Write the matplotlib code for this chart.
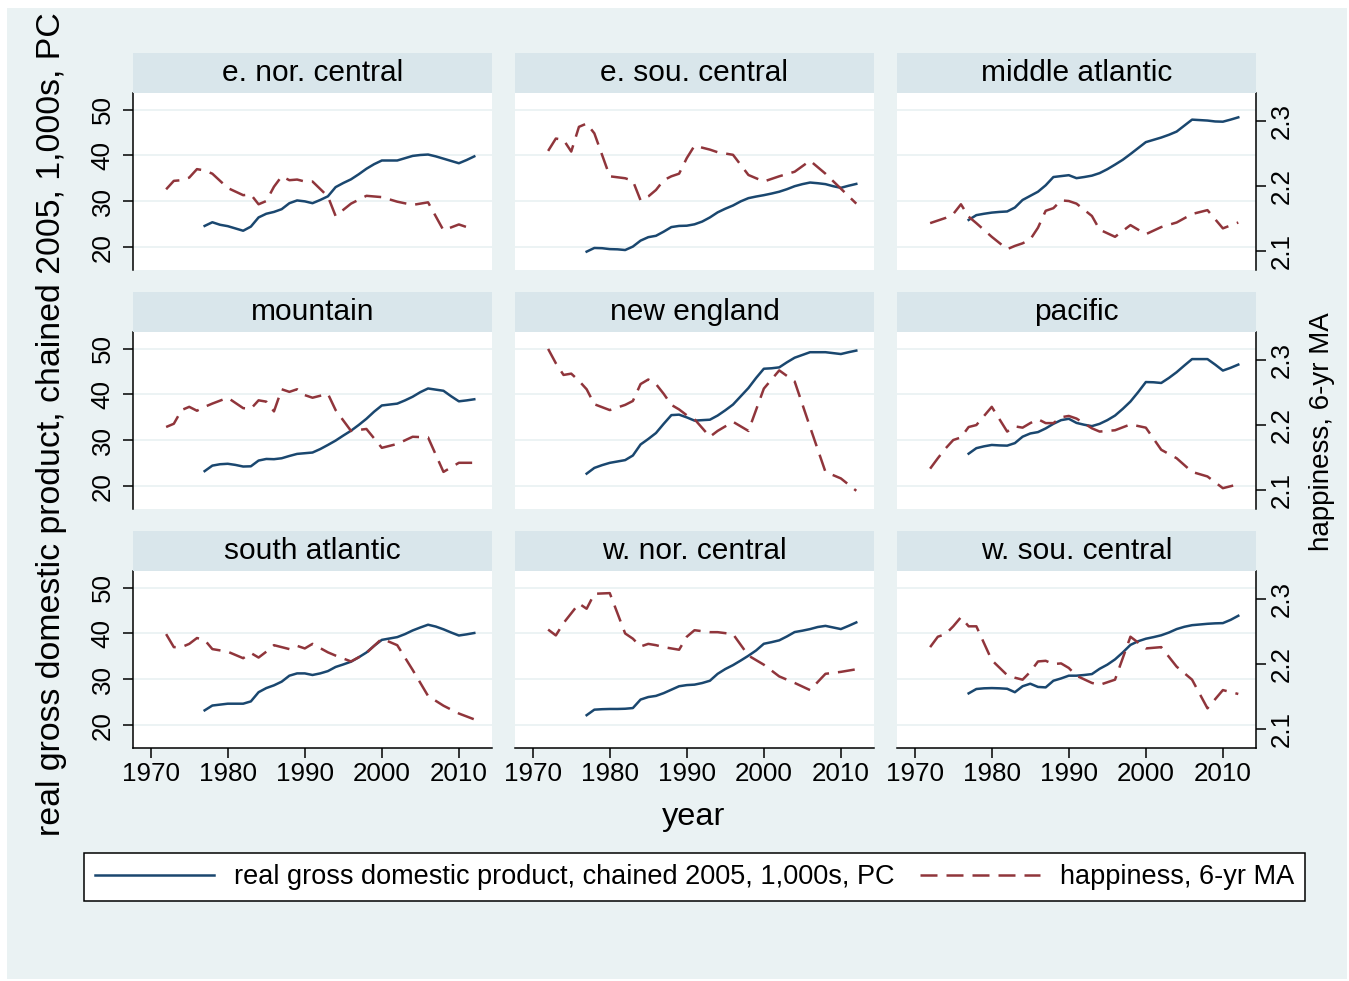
import matplotlib
matplotlib.use("Agg")
import matplotlib.pyplot as plt
from matplotlib.patches import Rectangle

plt.rcParams['font.family'] = ['Liberation Sans', 'DejaVu Sans']

W, H = 1349, 981

regions = ['e. nor. central', 'e. sou. central', 'middle atlantic',
           'mountain', 'new england', 'pacific',
           'south atlantic', 'w. nor. central', 'w. sou. central']

# GSS survey years (happiness, 6-yr moving average)
hap_years = [1972, 1973, 1974, 1975, 1976, 1977, 1978, 1980, 1982, 1983,
             1984, 1985, 1986, 1987, 1988, 1989, 1990, 1991, 1993, 1994,
             1996, 1998, 2000, 2002, 2004, 2006, 2008, 2010, 2012]
gdp_years = list(range(1977, 2013))

gdp_enc = [24.65, 25.45, 24.9, 24.6, 24.1, 23.6, 24.5, 26.5, 27.3, 27.7, 28.3, 29.6,
           30.2, 30.0, 29.6, 30.3, 31.1, 33.1, 34.0, 34.8, 35.9, 37.1, 38.1, 38.9,
           38.9, 38.9, 39.4, 39.9, 40.1, 40.2, 39.8, 39.3, 38.8, 38.3, 39.0, 39.8]
hap_enc = [2.195, 2.208, 2.209, 2.213, 2.226, 2.224, 2.219, 2.197, 2.186, 2.187,
           2.172, 2.177, 2.199, 2.215, 2.209, 2.210, 2.207, 2.207, 2.184, 2.154,
           2.173, 2.185, 2.183, 2.176, 2.171, 2.175, 2.132, 2.141, 2.133]

gdp_esc = [19.05, 19.85, 19.8, 19.6, 19.55, 19.4, 20.15, 21.45, 22.2, 22.5, 23.4, 24.4,
           24.65, 24.7, 25.0, 25.6, 26.5, 27.6, 28.4, 29.1, 30.0, 30.7, 31.05, 31.35,
           31.7, 32.1, 32.65, 33.3, 33.75, 34.1, 33.95, 33.75, 33.3, 32.95, 33.4, 33.8]
hap_esc = [2.254, 2.273, 2.271, 2.253, 2.291, 2.296, 2.281, 2.215, 2.212, 2.208,
           2.178, 2.184, 2.194, 2.209, 2.215, 2.219, 2.243, 2.262, 2.256, 2.252,
           2.248, 2.217, 2.207, 2.215, 2.222, 2.239, 2.219, 2.196, 2.173]

gdp_mat = [25.96, 27.0, 27.3, 27.55, 27.7, 27.8, 28.65, 30.3, 31.2, 32.1, 33.5, 35.3,
           35.5, 35.7, 35.05, 35.3, 35.6, 36.15, 37.0, 38.0, 39.05, 40.3, 41.6, 42.9,
           43.4, 43.9, 44.5, 45.2, 46.5, 47.8, 47.7, 47.6, 47.4, 47.35, 47.8, 48.3]
hap_mat = [2.143, 2.147, 2.151, 2.157, 2.172, 2.153, 2.143, 2.122, 2.103, 2.108,
           2.112, 2.118, 2.136, 2.162, 2.166, 2.178, 2.177, 2.173, 2.154, 2.133,
           2.122, 2.140, 2.126, 2.137, 2.144, 2.157, 2.163, 2.135, 2.144]

gdp_mtn = [23.3, 24.5, 24.8, 24.9, 24.65, 24.3, 24.35, 25.6, 25.95, 25.9, 26.1, 26.6,
           27.05, 27.2, 27.35, 28.1, 29.0, 29.95, 31.05, 32.1, 33.35, 34.7, 36.25, 37.6,
           37.8, 38.0, 38.7, 39.5, 40.5, 41.3, 41.05, 40.8, 39.6, 38.5, 38.7, 38.95]
hap_mtn = [2.197, 2.202, 2.223, 2.228, 2.222, 2.228, 2.233, 2.242, 2.226, 2.225,
           2.238, 2.236, 2.221, 2.255, 2.251, 2.255, 2.246, 2.242, 2.248, 2.223,
           2.191, 2.194, 2.165, 2.171, 2.182, 2.181, 2.128, 2.142, 2.142]

gdp_ne = [22.75, 24.0, 24.6, 25.1, 25.4, 25.7, 26.7, 29.1, 30.3, 31.6, 33.6, 35.5,
          35.6, 35.0, 34.3, 34.4, 34.5, 35.4, 36.55, 37.8, 39.6, 41.4, 43.6, 45.6,
          45.7, 45.9, 47.0, 48.0, 48.6, 49.2, 49.2, 49.2, 49.0, 48.8, 49.2, 49.55]
hap_ne = [2.317, 2.295, 2.277, 2.279, 2.268, 2.255, 2.232, 2.223, 2.231, 2.237,
          2.263, 2.270, 2.263, 2.248, 2.231, 2.224, 2.215, 2.209, 2.182, 2.191,
          2.205, 2.191, 2.256, 2.284, 2.267, 2.197, 2.128, 2.118, 2.099]

gdp_pac = [27.1, 28.3, 28.7, 29.0, 28.9, 28.85, 29.4, 30.8, 31.5, 31.8, 32.6, 33.6,
           34.4, 34.7, 33.8, 33.4, 33.1, 33.6, 34.4, 35.4, 36.85, 38.45, 40.5, 42.7,
           42.65, 42.5, 43.6, 44.85, 46.3, 47.7, 47.7, 47.7, 46.5, 45.2, 45.8, 46.5]
hap_pac = [2.133, 2.149, 2.164, 2.177, 2.181, 2.197, 2.200, 2.228, 2.190, 2.198,
           2.196, 2.203, 2.209, 2.203, 2.203, 2.212, 2.214, 2.210, 2.195, 2.190,
           2.192, 2.201, 2.196, 2.162, 2.149, 2.128, 2.121, 2.103, 2.109]

gdp_sat = [23.25, 24.3, 24.5, 24.7, 24.7, 24.7, 25.2, 27.2, 28.1, 28.7, 29.5, 30.8,
           31.3, 31.3, 30.95, 31.3, 31.8, 32.7, 33.25, 33.85, 34.8, 35.85, 37.3, 38.6,
           38.9, 39.2, 39.85, 40.65, 41.3, 41.9, 41.5, 40.9, 40.2, 39.55, 39.8, 40.1]
hap_sat = [2.246, 2.226, 2.226, 2.231, 2.240, 2.237, 2.223, 2.219, 2.209, 2.217,
           2.210, 2.219, 2.229, 2.226, 2.223, 2.228, 2.224, 2.231, 2.218, 2.213,
           2.204, 2.217, 2.239, 2.229, 2.191, 2.151, 2.136, 2.124, 2.115]

gdp_wnc = [22.2, 23.4, 23.5, 23.55, 23.55, 23.6, 23.75, 25.6, 26.15, 26.4, 27.0, 27.75,
           28.5, 28.75, 28.85, 29.2, 29.7, 31.2, 32.25, 33.1, 34.1, 35.15, 36.3, 37.75,
           38.1, 38.5, 39.35, 40.3, 40.6, 40.95, 41.4, 41.65, 41.3, 40.95, 41.65, 42.4]
hap_wnc = [2.253, 2.244, 2.263, 2.278, 2.293, 2.285, 2.308, 2.309, 2.247, 2.239,
           2.227, 2.231, 2.229, 2.226, 2.224, 2.222, 2.242, 2.252, 2.249, 2.249,
           2.246, 2.213, 2.199, 2.181, 2.171, 2.160, 2.185, 2.188, 2.192]

gdp_wsc = [26.95, 27.9, 28.05, 28.1, 28.05, 27.95, 27.2, 28.5, 29.05, 28.35, 28.25, 29.7,
           30.2, 30.8, 30.8, 30.95, 31.15, 32.3, 33.2, 34.35, 35.85, 37.5, 38.3, 38.85,
           39.2, 39.6, 40.2, 40.95, 41.45, 41.8, 41.95, 42.1, 42.2, 42.25, 42.95, 43.85]
hap_wsc = [2.226, 2.242, 2.246, 2.258, 2.272, 2.258, 2.258, 2.206, 2.183, 2.179,
           2.176, 2.188, 2.204, 2.205, 2.200, 2.201, 2.194, 2.182, 2.171, 2.168,
           2.176, 2.242, 2.224, 2.226, 2.196, 2.176, 2.132, 2.160, 2.154]

gdp_all = [gdp_enc, gdp_esc, gdp_mat, gdp_mtn, gdp_ne, gdp_pac, gdp_sat, gdp_wnc, gdp_wsc]
hap_all = [hap_enc, hap_esc, hap_mat, hap_mtn, hap_ne, hap_pac, hap_sat, hap_wnc, hap_wsc]

gdp_label = 'real gross domestic product, chained 2005, 1,000s, PC'
hap_label = 'happiness, 6-yr MA'

blue = '#1A476F'
red = '#90353B'
bg = '#EAF2F3'
strip_col = '#D9E6EB'


def box(x, y, w, h):
    # pixel box (top-left origin) -> figure fraction
    return [x / W, 1 - (y + h) / H, w / W, h / H]


fig = plt.figure(figsize=(W / 100, H / 100), dpi=100)
fig.patch.set_facecolor('white')
fig.patches.append(Rectangle((7 / W, 1 - 979 / H), 1340 / W, 971 / H,
                             transform=fig.transFigure, facecolor=bg,
                             edgecolor='none', zorder=-10))

col_x = [133, 515, 897]
row_y = [93, 332, 571]
pw, ph = 359, 177
tick_fs = 18.7

for i, name in enumerate(regions):
    r, c = divmod(i, 3)
    ax = fig.add_axes(box(col_x[c], row_y[r], pw, ph))
    ax2 = ax.twinx()

    ax.set_facecolor('white')
    ax.grid(axis='y', color=bg, linewidth=1.3)
    ax.set_axisbelow(True)

    l1, = ax.plot(gdp_years, gdp_all[i], color=blue, lw=1.8, label=gdp_label)
    l2, = ax2.plot(hap_years, hap_all[i], color=red, lw=1.8, dashes=(6.8, 3.6),
                   label=hap_label)

    ax.set_xlim(1967.7, 2014.3)
    ax.set_ylim(15.05, 53.6)
    ax2.set_ylim(2.071, 2.343)
    ax.set_xticks([1970, 1980, 1990, 2000, 2010])
    ax.set_yticks([20, 30, 40, 50])
    ax2.set_yticks([2.1, 2.2, 2.3])

    for a in (ax, ax2):
        for s in a.spines.values():
            s.set_visible(False)
            s.set_linewidth(1.1)
            s.set_color('black')

    ax.tick_params(axis='both', direction='out', length=7.2, width=1.1,
                   labelsize=tick_fs, colors='black')
    ax.tick_params(axis='y', labelrotation=90, pad=6)
    ax.tick_params(axis='x', pad=3)
    ax2.tick_params(axis='y', direction='out', length=7.2, width=1.1,
                    labelsize=tick_fs, labelrotation=90, pad=3)
    for t in ax.get_yticklabels():
        t.set_va('center')
    for t in ax2.get_yticklabels():
        t.set_va('center')

    if c == 0:
        ax.spines['left'].set_visible(True)
    else:
        ax.tick_params(axis='y', left=False, labelleft=False)
    if c == 2:
        ax2.spines['right'].set_visible(True)
    else:
        ax2.tick_params(axis='y', right=False, labelright=False)
    if r == 2:
        ax.spines['bottom'].set_visible(True)
    else:
        ax.tick_params(axis='x', bottom=False, labelbottom=False)

    st = fig.add_axes(box(col_x[c], row_y[r] - 40, pw, 40))
    st.set_facecolor(strip_col)
    st.set_xticks([])
    st.set_yticks([])
    for s in st.spines.values():
        s.set_visible(False)
    st.text(0.5, 0.5, name, ha='center', va='center', fontsize=21.5,
            transform=st.transAxes)

    if i == 0:
        handles = [l1, l2]

fig.text(52 / W, 1 - 424 / H, gdp_label, rotation=90, ha='center', va='center',
         fontsize=24.4)
fig.text(1322 / W, 1 - 432 / H, hap_label, rotation=90, ha='center', va='center',
         fontsize=20)
fig.text(694 / W, 1 - 817 / H, 'year', ha='center', va='center', fontsize=23.4)

leg = fig.legend(handles=handles, labels=[gdp_label, hap_label], loc='center',
                 bbox_to_anchor=box(84, 849, 1221, 56), mode='expand', ncol=2,
                 fontsize=19.5, frameon=True, fancybox=False,
                 edgecolor='black', framealpha=1, handlelength=4.4,
                 handletextpad=0.75, borderpad=0.4, borderaxespad=0)
leg.get_frame().set_linewidth(1.1)

fig.savefig('out.png', dpi=100, facecolor=fig.get_facecolor())
